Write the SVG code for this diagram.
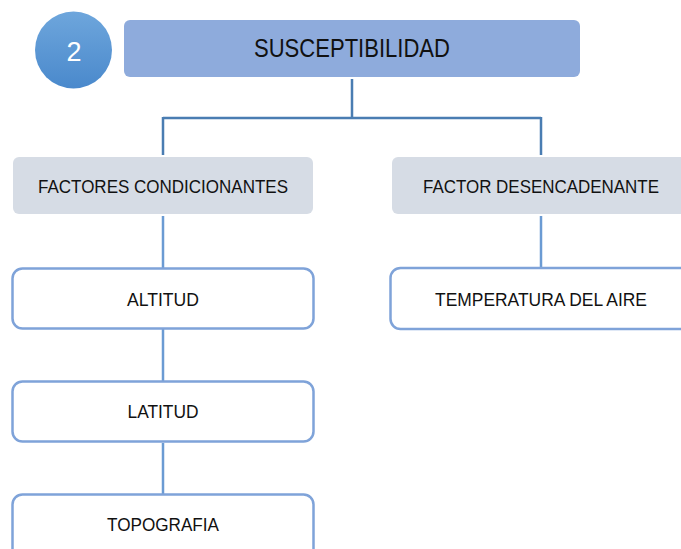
<svg xmlns="http://www.w3.org/2000/svg" width="681" height="549" viewBox="0 0 681 549">
<defs>
<linearGradient id="cg" x1="0" y1="0" x2="0" y2="1">
<stop offset="0" stop-color="#6ea6dc"/>
<stop offset="1" stop-color="#4a89cc"/>
</linearGradient>
</defs>
<style>
.t{font-family:"Liberation Sans",Arial,sans-serif;fill:#111;text-anchor:middle}
.f{fill:#d6dce5}
.w{fill:#fff;stroke:#7fa3d9;stroke-width:2.5}
.c1{stroke:#4a7db2;stroke-width:2.5;fill:none}
.c2{stroke:#6b9bd3;stroke-width:2.5;fill:none}
</style>
<rect width="681" height="549" fill="#fff"/>
<g id="connectors">
<path class="c1" d="M352 79V118M163 118H541M163 117V155M541 117V155"/>
<path class="c2" d="M163 216V268M163 329V381M163 443V494M541 216V268"/>
</g>
<g id="badge">
<circle cx="73.5" cy="50" r="38.5" fill="url(#cg)"/>
<text x="74" y="61" font-family="Liberation Sans,Arial,sans-serif" font-size="27" fill="#fff" text-anchor="middle">2</text>
</g>
<g id="susceptibilidad">
<rect x="124" y="20" width="456" height="57" rx="6" fill="#8eabdc"/>
<text class="t" x="352" y="56.5" font-size="26" textLength="196" lengthAdjust="spacingAndGlyphs">SUSCEPTIBILIDAD</text>
</g>
<g id="factores">
<rect class="f" x="13" y="157" width="300" height="57" rx="6"/>
<text class="t" x="163" y="193" font-size="18" textLength="250" lengthAdjust="spacingAndGlyphs">FACTORES CONDICIONANTES</text>
</g>
<g id="desencadenante">
<rect class="f" x="392" y="157" width="300" height="57" rx="6"/>
<text class="t" x="541" y="193" font-size="18" textLength="236" lengthAdjust="spacingAndGlyphs">FACTOR DESENCADENANTE</text>
</g>
<g id="altitud">
<rect class="w" x="12.5" y="268.5" width="301" height="60" rx="10"/>
<text class="t" x="163" y="306" font-size="18" textLength="72" lengthAdjust="spacingAndGlyphs">ALTITUD</text>
</g>
<g id="temperatura">
<rect class="w" x="390.5" y="268" width="320" height="61" rx="10"/>
<text class="t" x="541" y="306" font-size="18" textLength="212" lengthAdjust="spacingAndGlyphs">TEMPERATURA DEL AIRE</text>
</g>
<g id="latitud">
<rect class="w" x="12.5" y="381.5" width="301" height="60" rx="10"/>
<text class="t" x="163" y="418" font-size="18" textLength="71" lengthAdjust="spacingAndGlyphs">LATITUD</text>
</g>
<g id="topografia">
<rect class="w" x="12.5" y="494.5" width="301" height="80" rx="10"/>
<text class="t" x="163" y="531" font-size="18" textLength="112" lengthAdjust="spacingAndGlyphs">TOPOGRAFIA</text>
</g>
</svg>
